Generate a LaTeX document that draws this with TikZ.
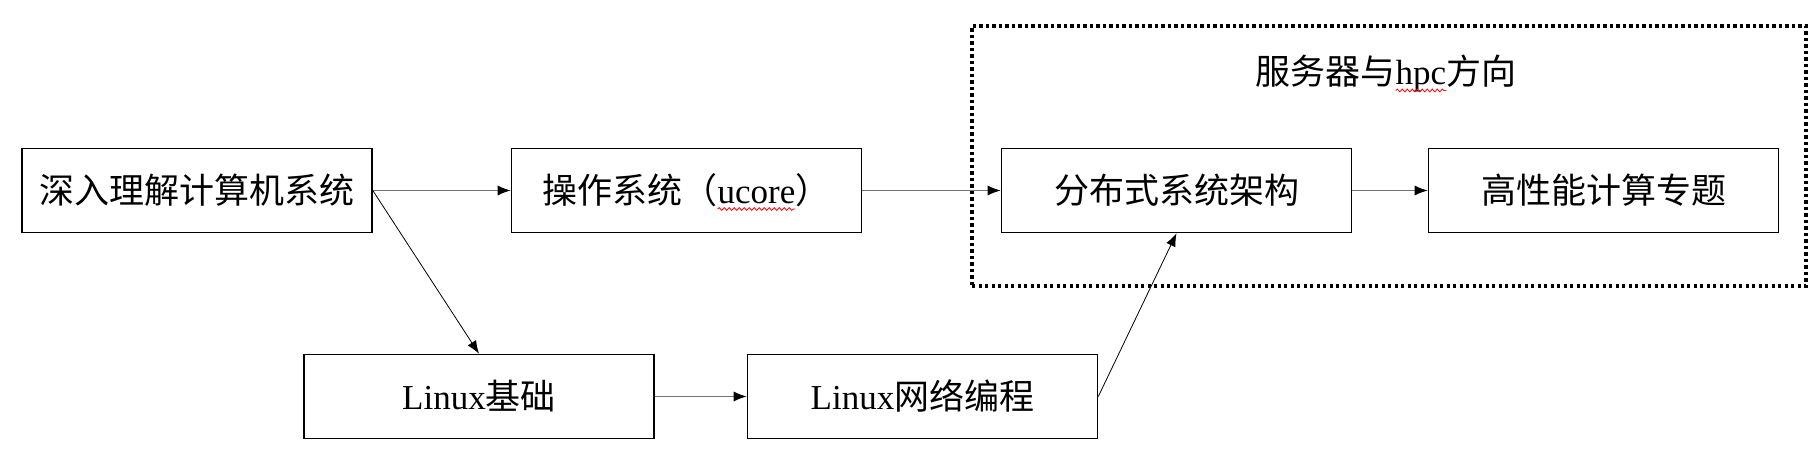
\documentclass[tikz,border=0pt]{standalone}
\usepackage{fontspec}
\setmainfont{Liberation Serif}
\newfontfamily\cjk{Noto Sans CJK SC}
\usetikzlibrary{arrows.meta,decorations.pathmorphing}
\newcommand\zh[1]{{\cjk #1}}
\newlength\wtwoA \newlength\wtwoB \newlength\wtwoT
\newlength\wtA \newlength\wtB \newlength\wtT
\tikzset{
  box/.style={draw=black, line width=1.6pt, minimum width=350pt, minimum height=84pt,
    inner sep=0pt, font=\fontsize{35}{40}\selectfont, text height=25pt, text depth=0pt},
  grp/.style={draw=black, line width=3.3pt, dash pattern=on 3.3pt off 3.2pt,
    minimum width=834pt, minimum height=260pt, inner sep=0pt},
  ttl/.style={font=\fontsize{35}{40}\selectfont, inner sep=0pt, text height=25pt, text depth=0pt},
  arr/.style={draw=black!55, line width=1.1pt, -{Latex[length=13pt,width=10pt,color=black]}},
  arrd/.style={draw=black, line width=0.8pt, -{Latex[length=13pt,width=10pt,color=black]}},
  wave/.style={draw=red, line width=0.8pt, decorate, decoration={snake, amplitude=1.4pt, segment length=5pt}}
}
\begin{document}
\settowidth\wtwoA{\fontsize{35}{40}\selectfont\zh{操作系统（}}
\settowidth\wtwoB{\fontsize{35}{40}\selectfont ucore}
\settowidth\wtwoT{\fontsize{35}{40}\selectfont\zh{操作系统（}ucore\zh{）}}
\settowidth\wtA{\fontsize{35}{40}\selectfont\zh{服务器与}}
\settowidth\wtB{\fontsize{35}{40}\selectfont hpc}
\settowidth\wtT{\fontsize{35}{40}\selectfont\zh{服务器与}hpc\zh{方向}}
\begin{tikzpicture}[x=1pt,y=-1pt]
\useasboundingbox (0,0) rectangle (1820,468);
\node[grp] (g) at (1389,156) {};
\node[ttl] (t) at (1386,72) {\zh{服务器与}hpc\zh{方向}};
\node[box] (b1) at (197,190.5) {\zh{深入理解计算机系统}};
\node[box] (b2) at (686.5,190.5) {\zh{操作系统（}ucore\zh{）}};
\node[box] (b3) at (1176.5,190.5) {\zh{分布式系统架构}};
\node[box] (b4) at (1603.5,190.5) {\zh{高性能计算专题}};
\node[box] (b5) at (479,396.5) {Linux\zh{基础}};
\node[box] (b6) at (922.5,396.5) {Linux\zh{网络编程}};
\coordinate (w2a) at ([xshift=-0.5\wtwoT+\wtwoA, yshift=-6pt]b2.base);
\coordinate (w2b) at ([xshift=-0.5\wtwoT+\wtwoA+\wtwoB, yshift=-6pt]b2.base);
\coordinate (wta) at ([xshift=-0.5\wtT+\wtA, yshift=-6pt]t.base);
\coordinate (wtb) at ([xshift=-0.5\wtT+\wtA+\wtB, yshift=-6pt]t.base);
\draw[wave] (w2a) -- (w2b);
\draw[wave] (wta) -- (wtb);
\draw[arr] (b1) -- (b2);
\draw[arr] (b2) -- (b3);
\draw[arr] (b3) -- (b4);
\draw[arr] (b5) -- (b6);
\draw[arrd] (b1.east) -- (b5.north);
\draw[arrd] (b6.east) -- (b3.south);
\end{tikzpicture}
\end{document}
